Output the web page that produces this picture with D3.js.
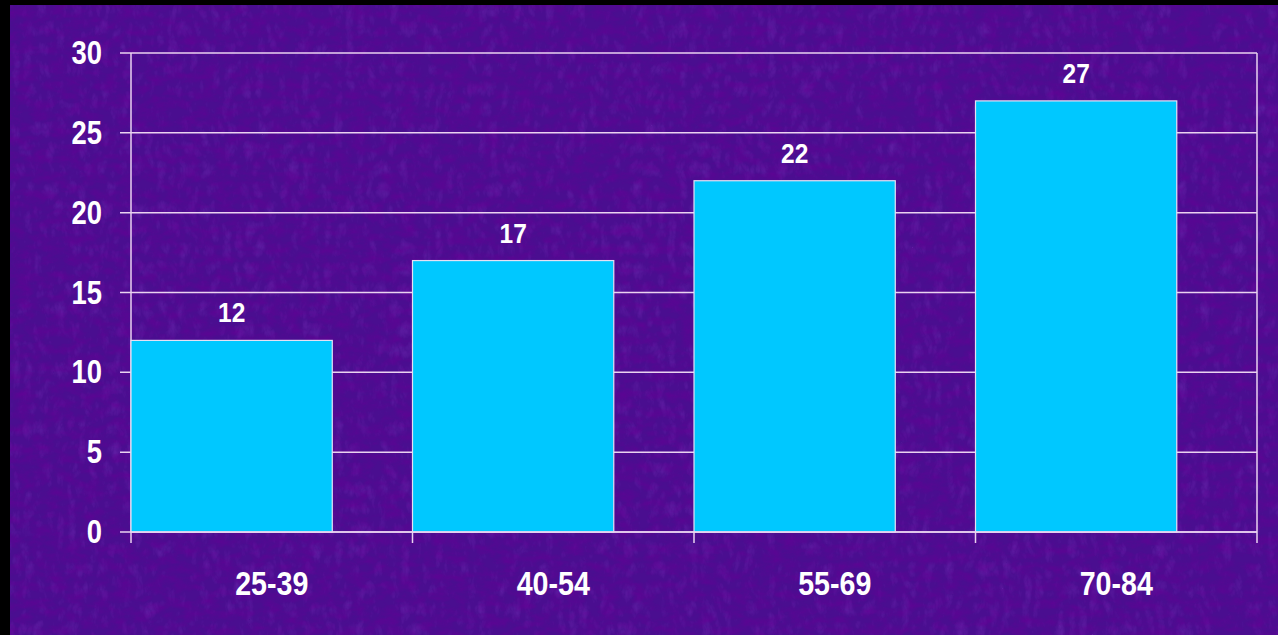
<!DOCTYPE html>
<html>
<head>
<meta charset="utf-8">
<script src="https://cdn.jsdelivr.net/npm/d3@7"></script>
<style>
  html, body { margin: 0; padding: 0; background: #000; }
  svg { display: block; }
  text { font-family: "Liberation Sans", Arial, sans-serif; font-weight: bold; fill: #ffffff; }
</style>
</head>
<body>
<svg id="chart" width="1278" height="635"></svg>
<script>
// Age groups and their values
const categories = ["25-39", "40-54", "55-69", "70-84"];
const values = [12, 17, 22, 27];
const yTicks = [0, 5, 10, 15, 20, 25, 30];

const W = 1278, H = 635;
const plot = { left: 131, right: 1257, top: 53, bottom: 532 };

const svg = d3.select("#chart");
const defs = svg.append("defs");

// Dark mottling for the purple backdrop
const f = defs.append("filter").attr("id", "shade")
  .attr("x", 0).attr("y", 0).attr("width", "100%").attr("height", "100%");
f.append("feTurbulence").attr("type", "fractalNoise")
  .attr("baseFrequency", "0.06 0.11").attr("numOctaves", 4).attr("seed", 11).attr("result", "n");
f.append("feColorMatrix").attr("in", "n").attr("type", "matrix")
  .attr("values", "0 0 0 0 0.13  0 0 0 0 0.0  0 0 0 0 0.30  1.4 0 0 0 -0.5");

// Lighter fibrous streaks
const f2 = defs.append("filter").attr("id", "fibre")
  .attr("x", 0).attr("y", 0).attr("width", "100%").attr("height", "100%");
f2.append("feTurbulence").attr("type", "turbulence")
  .attr("baseFrequency", "0.09 0.05").attr("numOctaves", 3).attr("seed", 4).attr("result", "n");
f2.append("feColorMatrix").attr("in", "n").attr("type", "matrix")
  .attr("values", "0 0 0 0 0.38  0 0 0 0 0.08  0 0 0 0 0.75  0 0 1.2 0 -0.35");

svg.append("rect").attr("width", W).attr("height", H).attr("fill", "#000");
const bg = svg.append("g");
bg.append("rect").attr("x", 10).attr("y", 5).attr("width", W - 10).attr("height", H - 5)
  .attr("fill", "#4a0e90");
bg.append("rect").attr("x", 10).attr("y", 5).attr("width", W - 10).attr("height", H - 5)
  .attr("fill", "#fff").attr("filter", "url(#fibre)").attr("opacity", 0.3);
bg.append("rect").attr("x", 10).attr("y", 5).attr("width", W - 10).attr("height", H - 5)
  .attr("fill", "#fff").attr("filter", "url(#shade)").attr("opacity", 0.85);

// Scales
const x = d3.scaleBand().domain(categories).range([plot.left, plot.right]).padding(0);
const y = d3.scaleLinear().domain([0, 30]).range([plot.bottom, plot.top]);
const barW = x.bandwidth() * 0.715;

const lineCol = "#ead2f0";

// Horizontal gridlines with outward ticks
svg.append("g").selectAll("line").data(yTicks).join("line")
  .attr("x1", plot.left - 11).attr("x2", plot.right)
  .attr("y1", d => y(d)).attr("y2", d => y(d))
  .attr("stroke", lineCol).attr("stroke-width", 1.5);

// Vertical axis and right border
svg.append("line").attr("x1", plot.left).attr("x2", plot.left)
  .attr("y1", plot.top).attr("y2", plot.bottom + 11)
  .attr("stroke", lineCol).attr("stroke-width", 1.5);
svg.append("line").attr("x1", plot.right).attr("x2", plot.right)
  .attr("y1", plot.top).attr("y2", plot.bottom + 11)
  .attr("stroke", lineCol).attr("stroke-width", 1.5);

// Category separator ticks below the baseline
svg.append("g").selectAll("line").data(categories.slice(1)).join("line")
  .attr("x1", d => x(d)).attr("x2", d => x(d))
  .attr("y1", plot.bottom).attr("y2", plot.bottom + 11)
  .attr("stroke", lineCol).attr("stroke-width", 1.5);

// Bars
svg.append("g").selectAll("rect").data(values).join("rect")
  .attr("x", (d, i) => x(categories[i]))
  .attr("y", d => y(d))
  .attr("width", barW)
  .attr("height", d => y(0) - y(d))
  .attr("fill", "#00c8ff")
  .attr("stroke", "#e6e0f4").attr("stroke-width", 1.2);

// Baseline drawn over bars
svg.append("line").attr("x1", plot.left).attr("x2", plot.right)
  .attr("y1", y(0)).attr("y2", y(0))
  .attr("stroke", lineCol).attr("stroke-width", 1.5);

// Value labels
svg.append("g").selectAll("text").data(values).join("text")
  .attr("transform", (d, i) => `translate(${x(categories[i]) + barW / 2},${y(d) - 18}) scale(0.86,1)`)
  .attr("text-anchor", "middle")
  .attr("font-size", 28.5)
  .text(d => d);

// Y tick labels
svg.append("g").selectAll("text").data(yTicks).join("text")
  .attr("transform", d => `translate(102,${y(d) + 11}) scale(0.83,1)`)
  .attr("text-anchor", "end")
  .attr("font-size", 33)
  .text(d => d);

// Category labels
svg.append("g").selectAll("text").data(categories).join("text")
  .attr("transform", d => `translate(${x(d) + x.bandwidth() / 2},595) scale(0.88,1)`)
  .attr("text-anchor", "middle")
  .attr("font-size", 32.5)
  .text(d => d);
</script>
</body>
</html>
